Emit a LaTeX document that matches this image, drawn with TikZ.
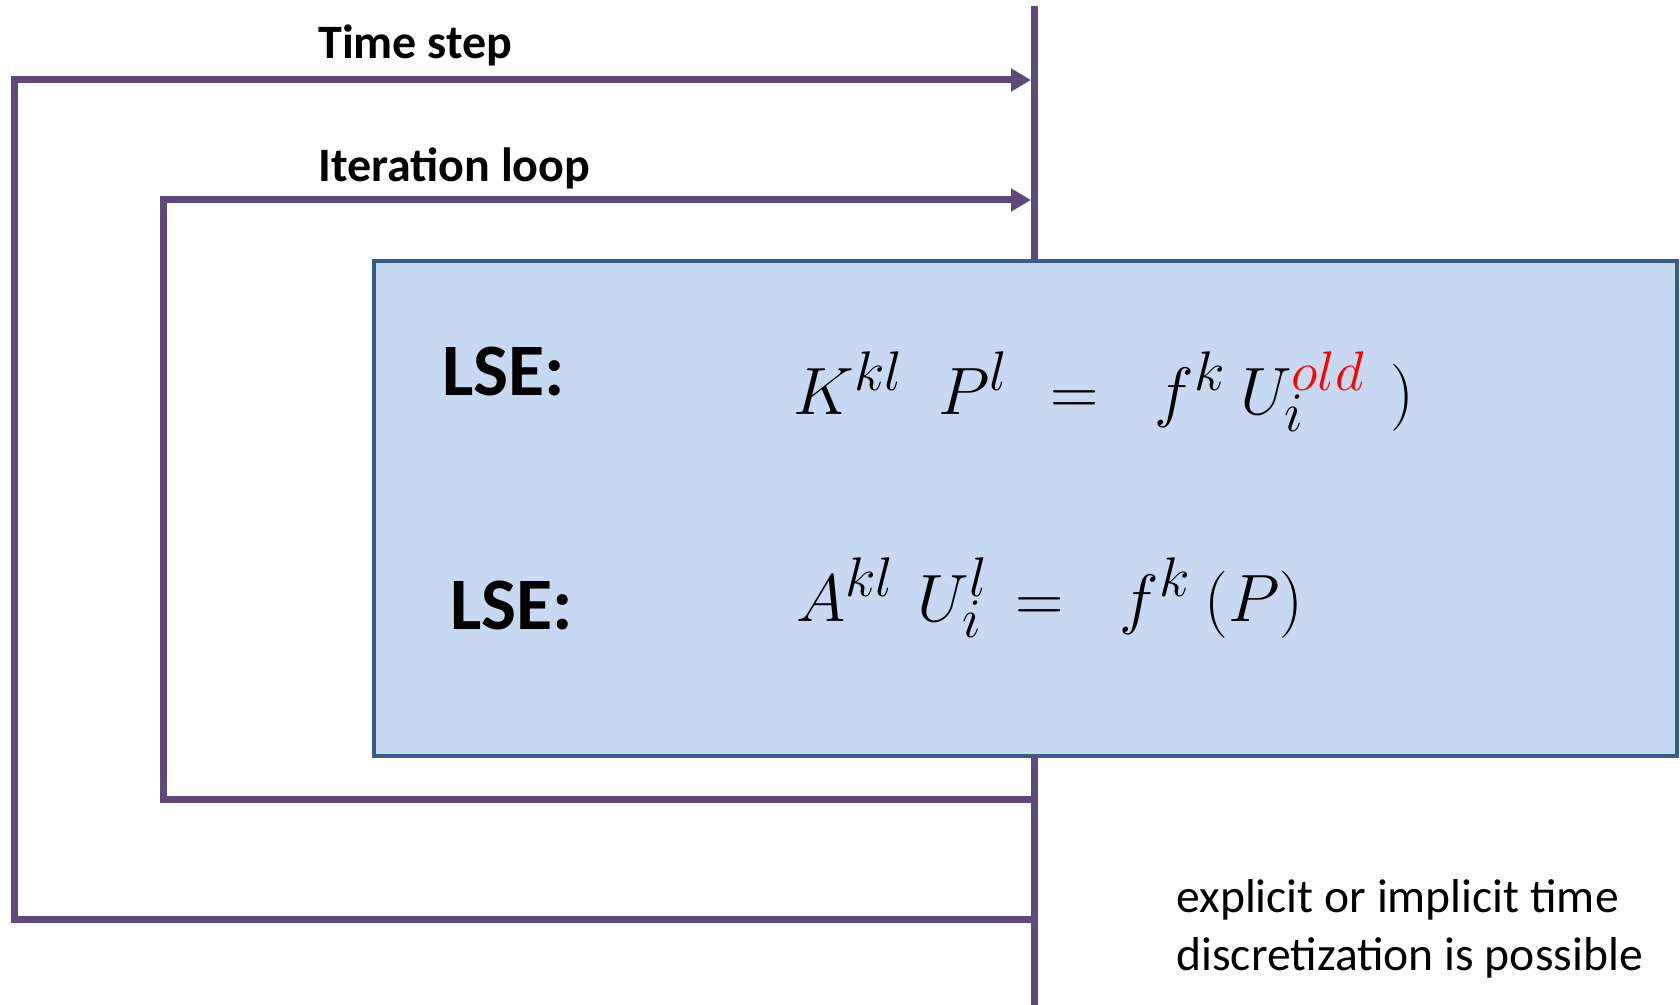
\documentclass[tikz,border=0pt]{standalone}
\usepackage{graphicx}
\usepackage[no-math]{fontspec}
\setmainfont{Carlito}
\usetikzlibrary{arrows.meta}
\definecolor{loopc}{HTML}{5F497A}
\definecolor{boxfill}{HTML}{C6D9F1}
\definecolor{boxedge}{HTML}{385D8A}
\newcommand{\bigeq}[1]{\scalebox{1.346}{\fontsize{24.88}{30}\selectfont$#1$}}
\begin{document}
\begin{tikzpicture}[x=0.5pt,y=-0.5pt,
  loopline/.style={draw=loopc,line width=3.5pt,line join=miter},
  looparrow/.style={loopline,-{Triangle[length=10pt,width=11pt]}},
  lbl/.style={font=\fontsize{24}{29}\selectfont\bfseries,anchor=base west,inner sep=0},
  lse/.style={font=\fontsize{37}{44}\selectfont\bfseries,anchor=base west,inner sep=0},
  eq/.style={anchor=base west,inner sep=0},
  note/.style={font=\fontsize{23.8}{29}\selectfont,anchor=base west,inner sep=0,align=left},
  lsebox/.style={draw=boxedge,fill=boxfill,line width=2pt,minimum width=651.5pt,minimum height=247.5pt,inner sep=0}]
\useasboundingbox (0,0) rectangle (1680,1005);
\coordinate (vtop) at (1034,6);
\coordinate (vbot) at (1034,1005);
\draw[loopline] (vtop) -- (vbot);
% time step loop
\coordinate (tsin) at (1034,919);
\coordinate (tsbl) at (14,919);
\coordinate (tstl) at (14,80);
\coordinate (tsout) at (1031,80);
\draw[looparrow] (tsin) -- (tsbl) -- (tstl) -- (tsout);
% iteration loop
\coordinate (itin) at (1034,799);
\coordinate (itbl) at (163,799);
\coordinate (ittl) at (163,200);
\coordinate (itout) at (1031,200);
\draw[looparrow] (itin) -- (itbl) -- (ittl) -- (itout);
% labels
\node[lbl] (tslabel) at (318,59) {Time step};
\node[lbl] (itlabel) at (318,182) {Iteration loop};
% box
\node[lsebox] (box) at (1025.5,508.5) {};
\node[lse] (lse1) at (442,395) {LSE:};
\node[lse] (lse2) at (450,629) {LSE:};
\node[eq] (eq1) at (793,415) {\bigeq{K^{kl}\hspace{0.52em}P^{l}\hspace{0.36em}=\;\; f^{k}\hspace{0.21em}U_i^{\textcolor{red}{old}}\hspace{0.37em})}};
\node[eq] (eq2) at (796,621) {\bigeq{A^{kl}\hspace{0.34em}U_i^{l}\hspace{0.14em}=\;\; f^{k}\hspace{0.2em}(P)}};
\node[note] (note) at (1176,970) {explicit or implicit time\\discretization is possible};
\end{tikzpicture}
\end{document}
